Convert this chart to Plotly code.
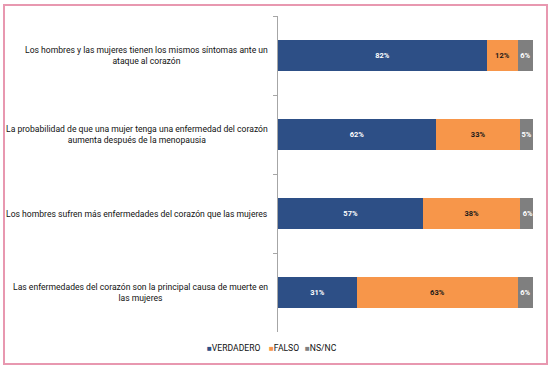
import plotly.graph_objects as go

categories = [
    "Los hombres y las mujeres tienen los mismos síntomas ante un<br>ataque al corazón",
    "La probabilidad de que una mujer tenga una enfermedad del corazón<br>aumenta después de la menopausia",
    "Los hombres sufren más enfermedades del corazón que las mujeres",
    "Las enfermedades del corazón son la principal causa de muerte en<br>las mujeres",
]
series_names = ["VERDADERO", "FALSO", "NS/NC"]
verdadero = [82, 62, 57, 31]
falso = [12, 33, 38, 63]
nsnc = [6, 5, 6, 6]

colors = ["#2D4F86", "#F7964A", "#7F7F7F"]
text_colors = ["white", "#1a1a1a", "white"]
FONT = "Roboto, Liberation Sans, sans-serif"

fig = go.Figure()
for name, vals, c, tc in zip(series_names, [verdadero, falso, nsnc], colors, text_colors):
    fig.add_trace(go.Bar(
        y=categories, x=vals, name=name, orientation="h",
        marker=dict(color=c, line=dict(width=0)),
        text=[f"{v}%" for v in vals], textposition="inside",
        insidetextanchor="middle", textangle=0, constraintext="none",
        textfont=dict(color=tc, size=7.5, family=FONT, weight="bold"),
        hoverinfo="skip", showlegend=False,
    ))

for cat in categories:
    fig.add_annotation(
        x=0, y=cat, xref="x", yref="y", text=cat, showarrow=False,
        xanchor="right", xshift=-8, align="center",
        font=dict(size=8.6, family=FONT, color="#111111"),
    )

legend_px = [205, 267, 303]
for n, c, px in zip(series_names, colors, legend_px):
    fig.add_annotation(
        x=(px - 278) / 255, y=(332 - 348) / 316, xref="paper", yref="paper",
        text=f"<span style='color:{c};font-size:8px'>■</span>{n}",
        showarrow=False, xanchor="left", yanchor="middle",
        font=dict(size=8.6, family=FONT, color="#111111"),
    )

fig.add_shape(
    type="rect", xref="paper", yref="paper",
    x0=(4 - 278) / 255, x1=(547 - 278) / 255,
    y0=(332 - 364) / 316, y1=(332 - 5) / 316,
    line=dict(color="#E898B0", width=2), fillcolor="rgba(0,0,0,0)",
)

fig.update_layout(
    width=551, height=367,
    margin=dict(l=278, r=18, t=16, b=35),
    barmode="stack", bargap=0.6,
    paper_bgcolor="white", plot_bgcolor="white",
    showlegend=False,
    xaxis=dict(range=[0, 100], visible=False, fixedrange=True),
    yaxis=dict(
        autorange="reversed", showticklabels=False,
        showline=True, linecolor="#A6A6A6", linewidth=1,
        ticks="outside", tickson="boundaries", ticklen=4, tickcolor="#A6A6A6",
        showgrid=False,
    ),
)

fig.write_html(
    "out.html",
    config={"displayModeBar": False},
    post_script="document.body.style.margin='0';document.body.style.overflow='hidden';",
)
